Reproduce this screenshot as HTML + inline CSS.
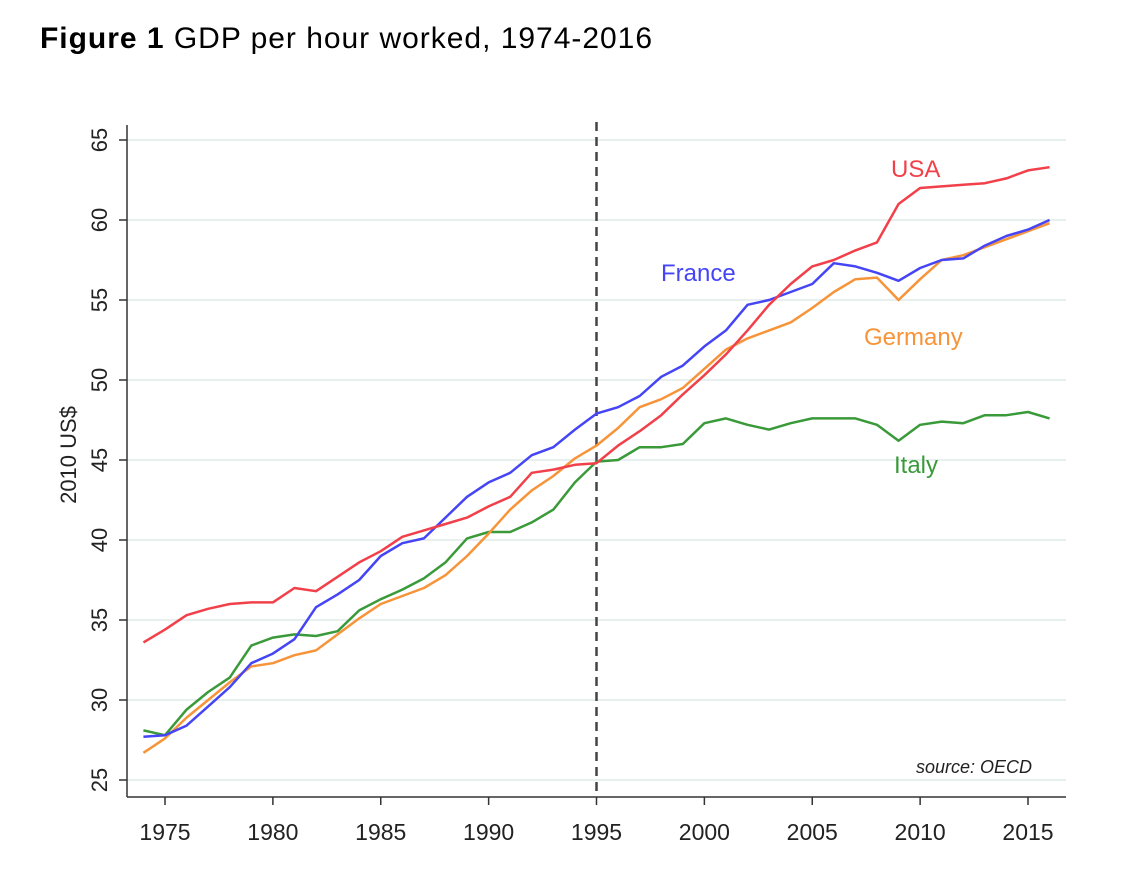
<!DOCTYPE html>
<html><head><meta charset="utf-8"><style>
body{margin:0;background:#fff;font-family:"Liberation Sans",sans-serif}
svg{display:block}
</style></head><body>
<svg id="chart" width="1132" height="878" xmlns="http://www.w3.org/2000/svg" font-family="Liberation Sans, sans-serif">
<text x="40" y="48" font-size="30" fill="#000" textLength="612"><tspan font-weight="bold">Figure 1</tspan> GDP per hour worked, 1974-2016</text>
<g id="grid"></g><g id="axes"></g><g id="lines"></g>
<text transform="translate(76,455) rotate(-90)" text-anchor="middle" font-size="22" fill="#222">2010 US$</text>
<text x="891" y="177" font-size="24" fill="#f2404a">USA</text>
<text x="661" y="281" font-size="24" fill="#4545f5">France</text>
<text x="864" y="345" font-size="24" fill="#f7943a">Germany</text>
<text x="894" y="473" font-size="24" fill="#3a9a3a">Italy</text>
<text x="1032" y="773" text-anchor="end" font-size="18" font-style="italic" fill="#222">source: OECD</text>
</svg>
<script>
const years=[];for(let y=1974;y<=2016;y++)years.push(y);
const usa=[33.6,34.4,35.3,35.7,36.0,36.1,36.1,37.0,36.8,37.7,38.6,39.3,40.2,40.6,41.0,41.4,42.1,42.7,44.2,44.4,44.7,44.8,45.9,46.8,47.8,49.1,50.3,51.6,53.1,54.7,56.0,57.1,57.5,58.1,58.6,61.0,62.0,62.1,62.2,62.3,62.6,63.1,63.3];
const france=[27.7,27.8,28.4,29.6,30.8,32.3,32.9,33.8,35.8,36.6,37.5,39.0,39.8,40.1,41.4,42.7,43.6,44.2,45.3,45.8,46.9,47.9,48.3,49.0,50.2,50.9,52.1,53.1,54.7,55.0,55.5,56.0,57.3,57.1,56.7,56.2,57.0,57.5,57.6,58.4,59.0,59.4,60.0];
const germany=[26.7,27.6,28.9,30.0,31.1,32.1,32.3,32.8,33.1,34.1,35.1,36.0,36.5,37.0,37.8,39.0,40.4,41.9,43.1,44.0,45.1,45.9,47.0,48.3,48.8,49.5,50.7,51.9,52.6,53.1,53.6,54.5,55.5,56.3,56.4,55.0,56.3,57.5,57.8,58.3,58.8,59.3,59.8];
const italy=[28.1,27.8,29.4,30.5,31.4,33.4,33.9,34.1,34.0,34.3,35.6,36.3,36.9,37.6,38.6,40.1,40.5,40.5,41.1,41.9,43.6,44.9,45.0,45.8,45.8,46.0,47.3,47.6,47.2,46.9,47.3,47.6,47.6,47.6,47.2,46.2,47.2,47.4,47.3,47.8,47.8,48.0,47.6];
const yTicks=[25,30,35,40,45,50,55,60,65];
const xTicks=[1975,1980,1985,1990,1995,2000,2005,2010,2015];
const NS="http://www.w3.org/2000/svg";
const X=v=>165+(v-1975)*(1028-165)/40;
const Y=v=>780-(v-25)*16;
function mk(p,t,a){const e=document.createElementNS(NS,t);for(const k in a)e.setAttribute(k,a[k]);p.appendChild(e);return e;}
const grid=document.getElementById('grid'),axes=document.getElementById('axes'),lines=document.getElementById('lines');
yTicks.forEach(v=>{
 const g=mk(grid,'line',{x1:127,x2:1066,y1:Y(v),y2:Y(v),stroke:'#e8efef','stroke-width':2});
 
 
 const t=mk(axes,'line',{x1:119,x2:127,y1:Y(v),y2:Y(v),stroke:'#333','stroke-width':1.5});
 
 
 const l=mk(axes,'text',{transform:`translate(107,${Y(v)}) rotate(-90)`,'text-anchor':'middle','font-size':22,fill:'#222'});
 l.textContent=v;
 
 
});
xTicks.forEach(v=>{
 const t=mk(axes,'line',{x1:X(v),x2:X(v),y1:797,y2:805,stroke:'#333','stroke-width':1.5});
 
 
 const l=mk(axes,'text',{x:X(v),y:840,'text-anchor':'middle','font-size':23,fill:'#222'});
 l.textContent=v;
 
 
});
const ya=mk(axes,'line',{x1:127,x2:127,y1:125,y2:797,stroke:'#333','stroke-width':1.5});


const xa=mk(axes,'line',{x1:127,x2:1066,y1:797,y2:797,stroke:'#333','stroke-width':1.5});


const dl=mk(axes,'line',{x1:X(1995),x2:X(1995),y1:122,y2:797,stroke:'#444','stroke-width':2.5,'stroke-dasharray':'9,6'});


[[italy,'#3a9a3a','italy'],[germany,'#f7943a','germany'],[france,'#4545f5','france'],[usa,'#f2404a','usa']].forEach(([d,c,n])=>{
 const p=mk(lines,'polyline',{points:d.map((v,i)=>X(years[i])+','+Y(v)).join(' '),fill:'none',stroke:c,'stroke-width':2.5,'stroke-linejoin':'round'});
 
 
});
</script>
</body></html>
